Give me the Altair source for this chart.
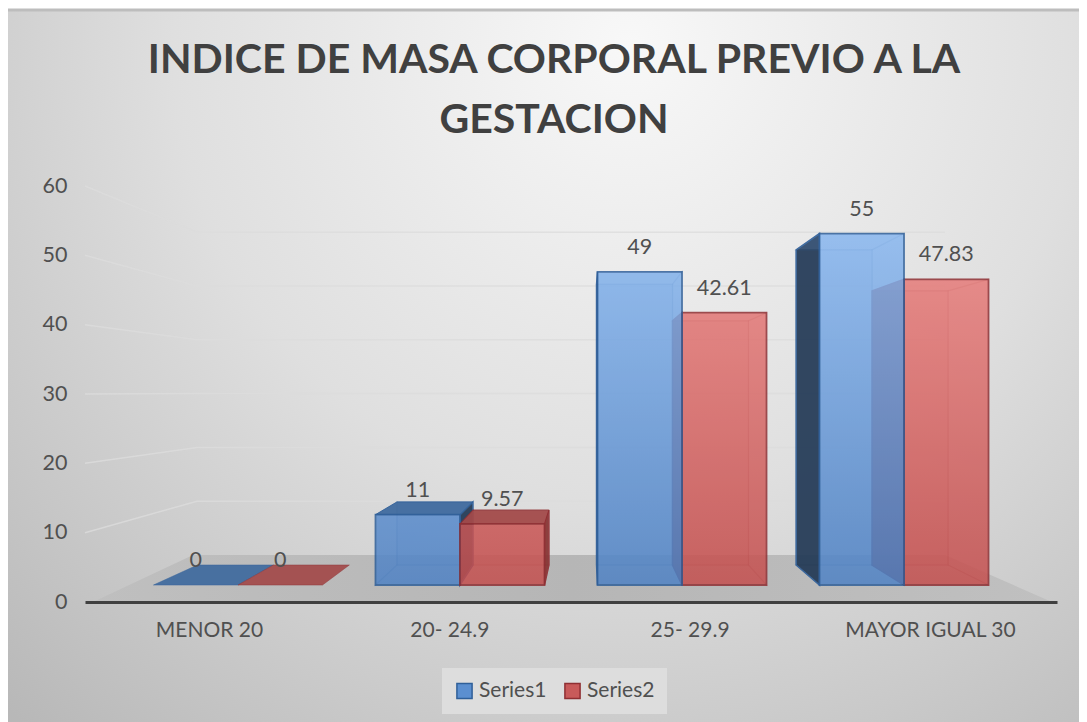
import altair as alt
import pandas as pd

# ---- values ----
categories = ["MENOR 20", "20- 24.9", "25- 29.9", "MAYOR IGUAL 30"]
series_names = ["Series1", "Series2"]
series1 = [0, 11, 49, 55]
series2 = [0, 9.57, 42.61, 47.83]
axis_ticks = [0, 10, 20, 30, 40, 50, 60]
title_lines = ["INDICE DE MASA CORPORAL PREVIO A LA", "GESTACION"]

# ---- 3-D projection geometry (pixels of the page) ----
W, H = 972, 416
PL, PT = 77, 178
TOTAL_W, TOTAL_H = 1071, 714
LEFT, BOTTOM, TOP = 85, 602, 186
CAT0, CAT_STEP, HALF = 238, 222, 84.5
FRONT0, FRONT_K = 585, 6.39
BACK0, BACK_K = 565, 5.73
WALL0, WALL_K = 555, 5.38
AXIS_K = (BOTTOM - TOP) / 60
BACK_A, BACK_B = 59.4, 0.899


def ux(px):
    return (px - CAT0) / CAT_STEP


def uy(py):
    return (FRONT0 - py) / FRONT_K


def back_x(px):
    return BACK_A + BACK_B * px


def front_y(v):
    return FRONT0 - FRONT_K * v


def back_y(v):
    return BACK0 - BACK_K * v


def lerp_hex(c1, c2, t):
    t = max(0, min(1, t))
    a = [int(c1[i:i + 2], 16) for i in (1, 3, 5)]
    b = [int(c2[i:i + 2], 16) for i in (1, 3, 5)]
    return "#" + "".join(f"{round(p + (q - p) * t):02x}" for p, q in zip(a, b))


x_scale = alt.Scale(domain=[ux(LEFT), ux(LEFT + W)], nice=False, zero=False)
y_scale = alt.Scale(domain=[uy(BOTTOM), uy(TOP)], nice=False, zero=False)
FONT = "Lato"
TXT = "#505050"

x_vals = [ux(209 + 240.3 * i) for i in range(4)]
x_axis = alt.Axis(
    values=x_vals,
    labelExpr=f"{categories!r}[round((datum.value - ({x_vals[0]})) / {240.3 / CAT_STEP})]",
    title=None, grid=False, ticks=False, domainColor="#404040", domainWidth=3,
    labelFont=FONT, labelFontSize=21, labelColor=TXT, labelPadding=28, zindex=1,
    labelBaseline="middle", labelOverlap=False, labelFlush=False,
)
y_vals = [uy(BOTTOM - AXIS_K * t) for t in axis_ticks]
y_axis = alt.Axis(
    values=y_vals,
    labelExpr=f"round((datum.value - ({y_vals[0]})) / {AXIS_K / FRONT_K} / 10) * 10",
    title=None, grid=False, ticks=False, domain=False,
    labelFont=FONT, labelFontSize=21.5, labelColor=TXT, labelPadding=18, zindex=1,
    labelOverlap=False,
)
X = alt.X("x:Q", scale=x_scale, axis=x_axis)
Y = alt.Y("y:Q", scale=y_scale, axis=y_axis)
layers = []

# background
one = alt.Data(values=[{"a": 1}])
bg = alt.Chart(one).mark_rect(fill={
    "gradient": "radial", "x1": 0.58, "y1": 0.2, "r1": 0, "x2": 0.58, "y2": 0.2, "r2": 0.85,
    "stops": [{"offset": 0, "color": "#f8f8f8"}, {"offset": 0.5, "color": "#dfdfdf"},
              {"offset": 1, "color": "#b8b8b8"}],
}).encode(x=alt.value(-PL), x2=alt.value(TOTAL_W - PL), y=alt.value(-PT + 1), y2=alt.value(TOTAL_H - PT))
layers.append(bg)
layers.append(alt.Chart(one).mark_rule(color="#bdbdbd", size=3).encode(
    x=alt.value(-PL), x2=alt.value(TOTAL_W - PL), y=alt.value(-PT + 2)))

# walls: gridlines on the side wall and back wall
rows = []
for t in axis_ticks[1:]:
    rows += [
        {"t": t, "x": ux(LEFT), "y": uy(BOTTOM - AXIS_K * t)},
        {"t": t, "x": ux(197), "y": uy(WALL0 - WALL_K * t)},
        {"t": t, "x": ux(945), "y": uy(WALL0 - WALL_K * t)},
    ]
layers.append(alt.Chart(pd.DataFrame(rows)).mark_line(color="#dcdcdc", strokeWidth=1.5, opacity=0.8).encode(
    x=X, y=Y, detail="t:N"))

# floor
floor = pd.DataFrame([
    {"x": ux(93), "y": uy(BOTTOM), "y2": uy(BOTTOM)},
    {"x": ux(193), "y": uy(WALL0), "y2": uy(BOTTOM)},
    {"x": ux(945), "y": uy(WALL0), "y2": uy(BOTTOM)},
    {"x": ux(1052), "y": uy(BOTTOM), "y2": uy(BOTTOM)},
])
layers.append(alt.Chart(floor).mark_area(fill={
    "gradient": "linear", "x1": 0, "y1": 0, "x2": 1, "y2": 0,
    "stops": [{"offset": 0, "color": "#bfbfbf"}, {"offset": 0.5, "color": "#b6b6b6"},
              {"offset": 1, "color": "#c0c0c0"}],
}).encode(x=X, y=Y, y2="y2:Q"))

# true bars (drive the legend)
bars = []
for i, c in enumerate(categories):
    for s, vals, off in ((series_names[0], series1, -1), (series_names[1], series2, 1)):
        l = CAT0 + CAT_STEP * i + (HALF * off if off < 0 else 0)
        bars.append({"cat": c, "series": s, "value": vals[i], "x": ux(l), "x2": ux(l + HALF),
                     "xc": ux(l + HALF / 2), "y": vals[i], "y0": 0})
bars_df = pd.DataFrame(bars)
dom = alt.Scale(domain=series_names, range=["#5b8fd0", "#c85a5a"])
dom_s = alt.Scale(domain=series_names, range=["#2f5f99", "#8f2f33"])
leg = dict(orient="none", legendX=357, legendY=482, direction="horizontal", title=None,
           fillColor="#dddddd", padding=12, symbolType="square", symbolSize=230, symbolOpacity=1,
           symbolStrokeWidth=1.5, labelFont=FONT, labelFontSize=21, labelColor=TXT, columnPadding=14,
           labelOffset=4, columns=2)
layers.append(alt.Chart(bars_df).mark_rect(opacity=0.01).encode(
    x=X, x2="x2:Q", y=Y, y2="y0:Q",
    fill=alt.Fill("series:N", scale=dom, legend=alt.Legend(**leg)),
    stroke=alt.Stroke("series:N", scale=dom_s, legend=alt.Legend(**leg)),
))

PAL = {
    "Series1": dict(hi="#8cbaf2", lo="#4f82c4", edge="#2f5f99", dark="#1f3550", top="#3f6a9e"),
    "Series2": dict(hi="#ee8583", lo="#c44f4e", edge="#8f2f33", dark="#84302f", top="#a34a4a"),
}


def grad(p, y1, y2):
    t1 = (y1 - 233) / (585 - 233)
    t2 = (y2 - 233) / (585 - 233)
    return {"gradient": "linear", "x1": 0, "y1": 0, "x2": 0, "y2": 1,
            "stops": [{"offset": 0, "color": lerp_hex(p["hi"], p["lo"], t1)},
                      {"offset": 1, "color": lerp_hex(p["hi"], p["lo"], t2)}]}


def rect(x1, x2, y1, y2, **kw):
    d = pd.DataFrame([{"x": ux(x1), "x2": ux(x2), "y": uy(y1), "y2": uy(y2)}])
    return alt.Chart(d).mark_rect(**kw).encode(x=X, x2="x2:Q", y=Y, y2="y2:Q")


def side(xf, v, **kw):
    xb = back_x(xf)
    d = pd.DataFrame([
        {"x": ux(xf), "y": uy(front_y(v)), "y2": uy(front_y(0))},
        {"x": ux(xb), "y": uy(back_y(v)), "y2": uy(back_y(0))},
    ])
    return alt.Chart(d).mark_area(**kw).encode(x=X, y=Y, y2="y2:Q")


def flat(xl, xr, v, **kw):
    d = pd.DataFrame([
        {"y": uy(front_y(v)), "x": ux(xl), "x2": ux(xr)},
        {"y": uy(back_y(v)), "x": ux(back_x(xl)), "x2": ux(back_x(xr))},
    ])
    return alt.Chart(d).mark_area(orient="horizontal", **kw).encode(y=Y, x=X, x2="x2:Q")


def cube(xl, xr, v, series):
    p = PAL[series]
    out = []
    inner = dict(color=p["lo"], opacity=0.22, stroke=p["edge"], strokeWidth=1.2, strokeOpacity=1)
    if v > 0:
        out.append(rect(back_x(xl), back_x(xr), back_y(v), back_y(0),
                        fill=p["lo"], opacity=0.3, stroke=p["edge"], strokeWidth=1.2))
        out.append(flat(xl, xr, 0, **inner))
        # far side first, near side after
        left_near = back_x(xl) < xl
        right_near = back_x(xr) > xr
        near = dict(color=p["dark"], opacity=0.88, stroke=p["edge"], strokeWidth=1.5)
        out.append(side(xl, v, **(near if left_near else inner)))
        out.append(side(xr, v, **(near if right_near else inner)))
    top_visible = back_y(v) < front_y(v) and v < 20 or v == 0
    if top_visible:
        out.append(flat(xl, xr, v, color=p["top"], opacity=0.92, stroke=p["edge"], strokeWidth=1 if v else 0.5))
    else:
        out.append(flat(xl, xr, v, **inner))
    if v > 0:
        out.append(rect(xl, xr, front_y(v), front_y(0), fill=grad(p, front_y(v), front_y(0)),
                        opacity=0.8, stroke=p["edge"], strokeWidth=1.8))
    return out


for i in range(4):
    c = CAT0 + CAT_STEP * i
    blue = cube(c - HALF, c, series1[i], series_names[0])
    red = cube(c, c + HALF, series2[i], series_names[1])
    # the camera sits near x = 588: the nearer cube is drawn last
    layers += (blue + red) if c < 588 else (red + blue)

# data labels
layers.append(alt.Chart(bars_df).mark_text(font=FONT, fontSize=21.5, color=TXT, dy=-24, baseline="middle").encode(
    x=alt.X("xc:Q", scale=x_scale, axis=x_axis), y=Y, text=alt.Text("value:Q", format=".4~f")))

chart = alt.layer(*layers).properties(
    width=W, height=H,
    padding={"left": PL, "top": PT, "right": TOTAL_W - PL - W, "bottom": TOTAL_H - PT - H},
    autosize=alt.AutoSizeParams(type="none"),
    title=alt.TitleParams(
        text=title_lines, font=FONT, fontWeight="bold", fontSize=41, color="#404040",
        anchor="middle", dx=-17, offset=-133, lineHeight=60,
    ),
).configure_view(stroke=None)

chart.save("out.html", embed_options={"renderer": "svg", "actions": False})
